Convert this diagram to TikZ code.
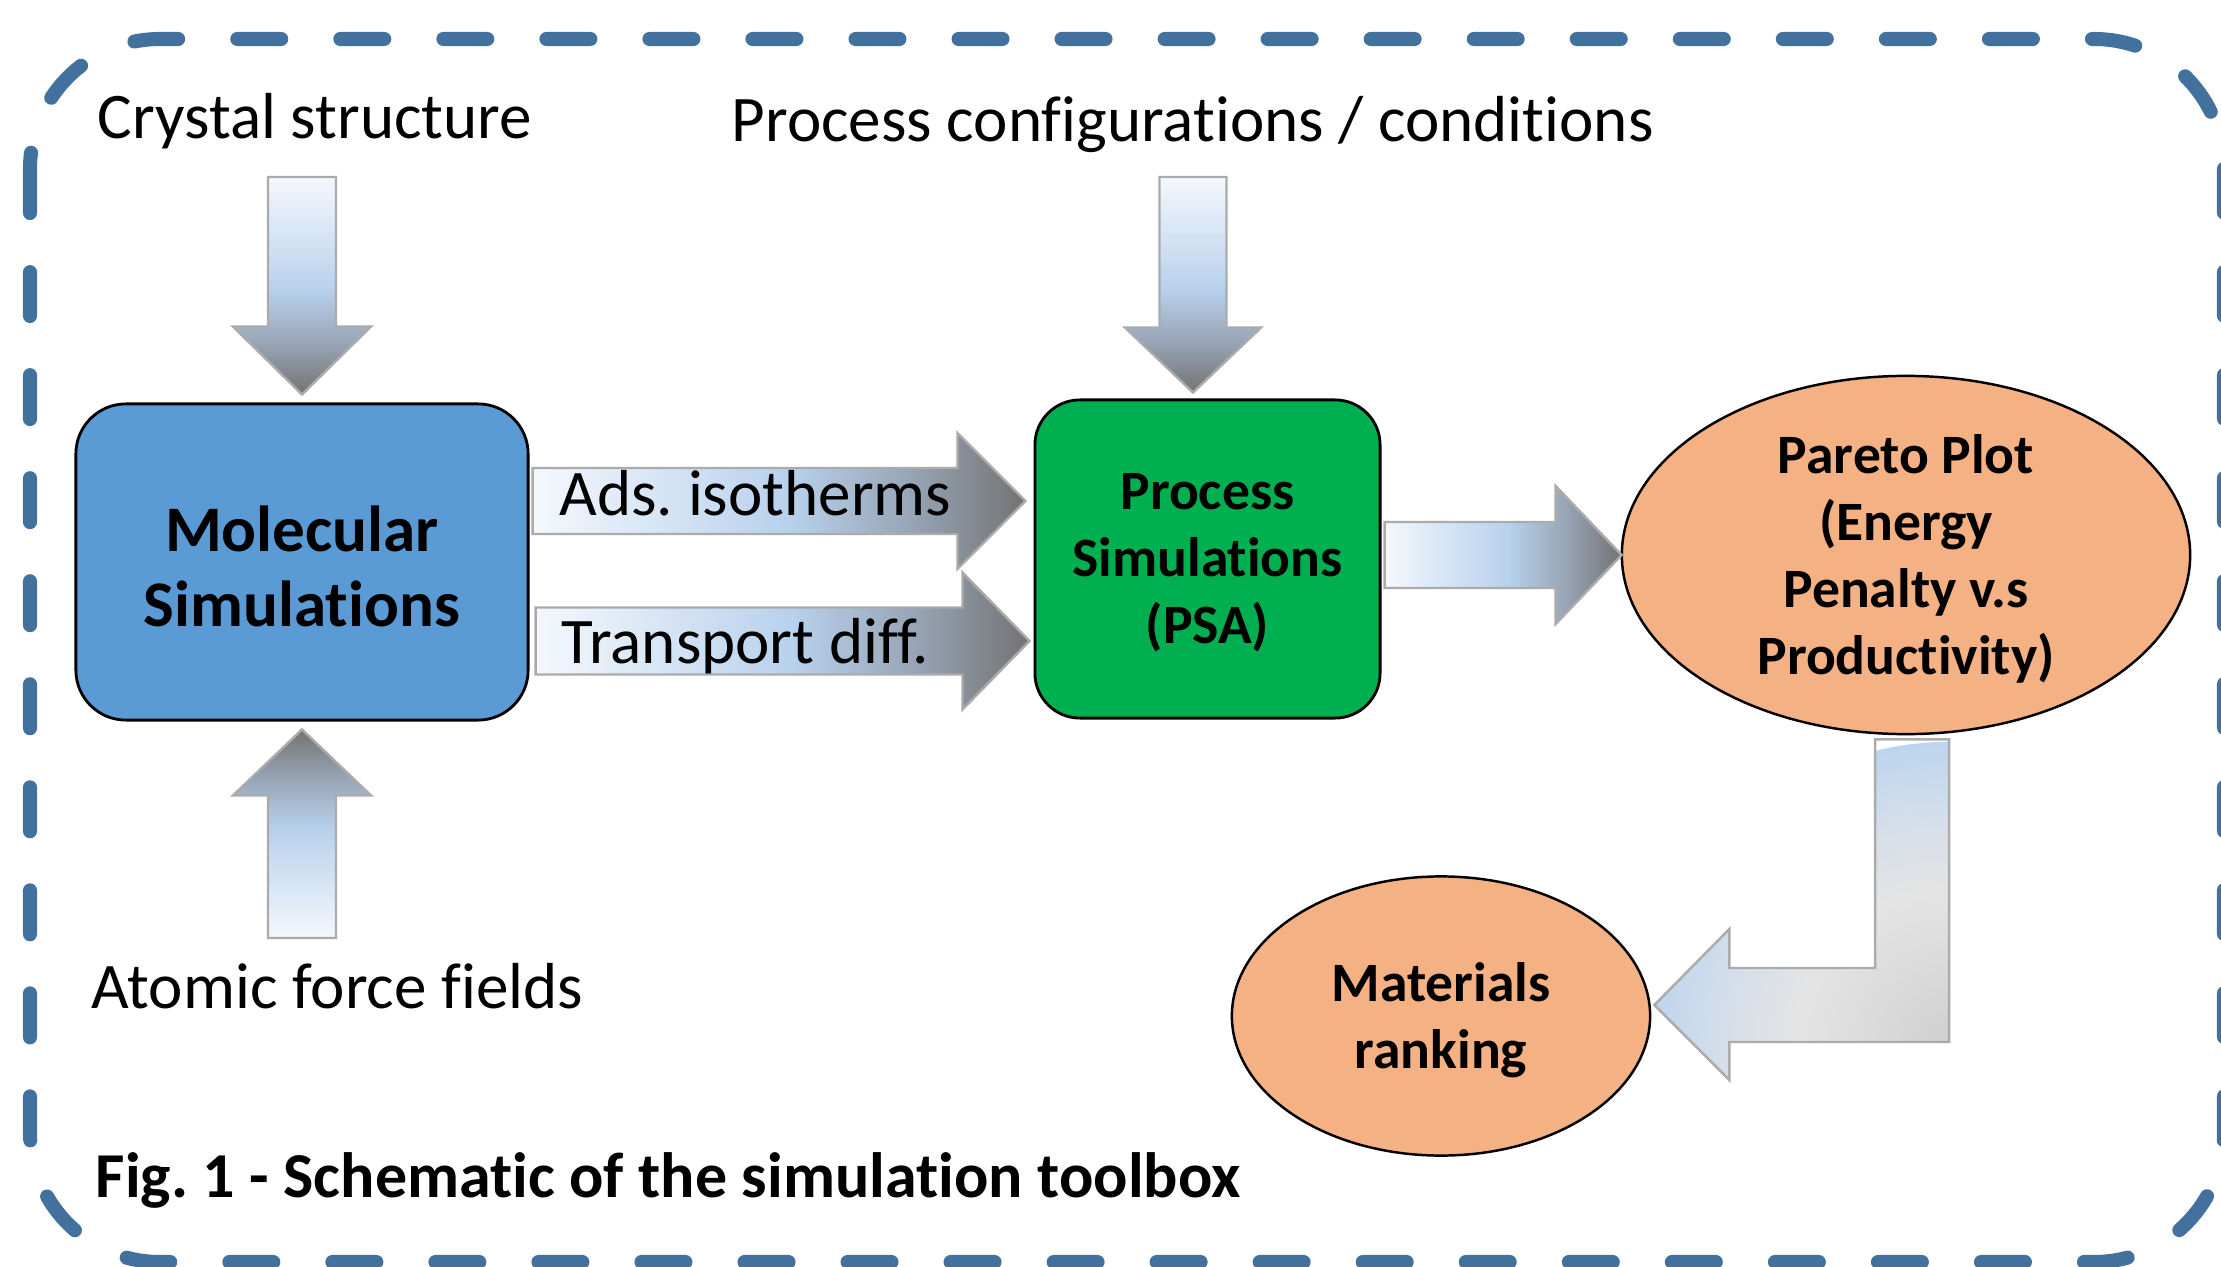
\documentclass[tikz,border=0pt]{standalone}
\usepackage{fontspec}
\setmainfont{Carlito}[Ligatures={TeX,NoCommon}]
\usetikzlibrary{calc,shapes.geometric}
\frenchspacing

\definecolor{frameblue}{RGB}{66,113,157}
\definecolor{molblue}{HTML}{5B9BD5}
\definecolor{psagreen}{HTML}{00B050}
\definecolor{peach}{HTML}{F4B183}
\definecolor{gLight}{HTML}{F4F8FD}
\definecolor{gBlue}{HTML}{B8D1EC}
\definecolor{gMid}{HTML}{98A6B7}
\definecolor{gDark}{HTML}{737373}
\definecolor{arrowedge}{HTML}{ABABAB}
\definecolor{bC0}{HTML}{D0D0D0}
\definecolor{bC1}{HTML}{E4E4E4}
\definecolor{bC2}{HTML}{D4DEEA}
\definecolor{bC3}{HTML}{BCD5EE}

% light-to-dark fill of the straight block arrows (light on top, dark at the bottom)
\pgfdeclareverticalshading{flowgrad}{100bp}{color(0bp)=(gDark); color(25bp)=(gDark); color(37bp)=(gMid); color(49bp)=(gBlue); color(75bp)=(gLight); color(100bp)=(gLight)}
% fill of the bent arrow, grey around its outer corner, blue towards both ends
\pgfdeclareradialshading{bendgrad}{\pgfpoint{0bp}{0bp}}{color(0bp)=(bC0); color(12.5bp)=(bC1); color(19bp)=(bC2); color(25bp)=(bC3); color(50bp)=(bC3)}

\tikzset{
  frame/.style={draw=frameblue, line width=4pt, line cap=round,
    dash pattern=on 12.5pt off 16.8pt, rounded corners=1.3cm},
  lbl/.style={inner sep=0pt, font=\fontsize{18.5}{22}\selectfont},
  caption/.style={inner sep=0pt, font=\bfseries\fontsize{18.2}{22}\selectfont},
  molbox/.style={rectangle, rounded corners=0.5cm, draw=black, line width=0.8pt,
    fill=molblue, minimum width=4.52cm, minimum height=3.16cm, inner sep=0pt},
  psabox/.style={rectangle, rounded corners=0.45cm, draw=black, line width=0.8pt,
    fill=psagreen, minimum width=3.45cm, minimum height=3.18cm, inner sep=0pt},
  result/.style={ellipse, draw=black, line width=0.7pt, fill=peach, inner sep=0pt},
  bigtext/.style={inner sep=0pt, align=center, font=\bfseries\fontsize{18.5}{21.3}\selectfont},
  boxtext/.style={inner sep=0pt, align=center, font=\bfseries\fontsize{15.8}{19.1}\selectfont},
  flowarrow/.style={shading=flowgrad, draw=arrowedge, line width=0.7pt, line join=miter},
  bendarrow/.style={draw=arrowedge, line width=0.7pt, line join=miter},
}

\begin{document}
\begin{tikzpicture}[x=0.01cm, y=-0.01cm]
\useasboundingbox (0,0) rectangle (2221,1267);

% dashed outer frame
\draw[frame] (30,39) rectangle (2224,1262);

% main blocks
\node[molbox] (mol) at (302,562) {};
\node[psabox] (psa) at (1207.5,559) {};
\node[result, minimum width=5.68cm, minimum height=3.58cm] (pareto) at (1906,555) {};
\node[result, minimum width=4.18cm, minimum height=2.79cm] (mat) at (1441,1016) {};

% block texts
\node[bigtext] (molT) at ($(mol.center)+(0,4)$) {Molecular\\Simulations};
\node[boxtext] (psaT) at ($(psa.center)+(0,4)$) {Process\\Simulations\\(PSA)};
\node[boxtext] (paretoT) at ($(pareto.center)+(0,4)$) {Pareto Plot\\(Energy\\Penalty v.s\\Productivity)};
\node[boxtext] (matT) at ($(mat.center)+(0,4)$) {Materials\\ranking};

% input labels and caption
\node[lbl, anchor=base west] (crys) at (97,139) {Crystal structure};
\node[lbl, anchor=base west] (conf) at (731,142) {Process configurations / conditions};
\node[lbl, anchor=base west] (ff) at (91,1008) {Atomic force fields};
\node[caption, anchor=base west] (cap) at (95,1197) {Fig. 1 - Schematic of the simulation toolbox};

% crystal structure -> molecular simulations
\coordinate (csTop) at (302,177);
\coordinate (csTip) at ($(mol.north)+(0,-8)$);
\shadedraw[flowarrow] ($(csTop)+(-34,0)$) -- ($(csTop)+(34,0)$) -- ($(csTip)+(34,-68)$)
  -- ($(csTip)+(69,-68)$) -- (csTip) -- ($(csTip)+(-69,-68)$) -- ($(csTip)+(-34,-68)$) -- cycle;

% atomic force fields -> molecular simulations
\coordinate (afBot) at (302,938);
\coordinate (afTip) at ($(mol.south)+(0,8)$);
\shadedraw[flowarrow, shading angle=180] ($(afBot)+(-34,0)$) -- ($(afBot)+(34,0)$) -- ($(afTip)+(34,66)$)
  -- ($(afTip)+(69,66)$) -- (afTip) -- ($(afTip)+(-69,66)$) -- ($(afTip)+(-34,66)$) -- cycle;

% process configurations -> process simulations
\coordinate (pcTop) at (1193,177);
\coordinate (pcTip) at ($(pcTop |- psa.north)+(0,-6)$);
\shadedraw[flowarrow] ($(pcTop)+(-33.5,0)$) -- ($(pcTop)+(33.5,0)$) -- ($(pcTip)+(33.5,-65)$)
  -- ($(pcTip)+(68,-65)$) -- (pcTip) -- ($(pcTip)+(-68,-65)$) -- ($(pcTip)+(-33.5,-65)$) -- cycle;

% adsorption isotherms
\coordinate (adsS) at ($(mol.east)+(3,-61)$);
\coordinate (adsT) at ($(adsS -| psa.west)+(-8,0)$);
\shadedraw[flowarrow, shading angle=90] ($(adsS)+(0,-33)$) -- ($(adsT)+(-68,-33)$) -- ($(adsT)+(-68,-68)$)
  -- (adsT) -- ($(adsT)+(-68,68)$) -- ($(adsT)+(-68,33)$) -- ($(adsS)+(0,33)$) -- cycle;

% transport diffusivities
\coordinate (trS) at ($(mol.east)+(6,79)$);
\coordinate (trT) at ($(trS -| psa.west)+(-4,0)$);
\shadedraw[flowarrow, shading angle=90] ($(trS)+(0,-33.5)$) -- ($(trT)+(-67,-33.5)$) -- ($(trT)+(-67,-68.5)$)
  -- (trT) -- ($(trT)+(-67,68.5)$) -- ($(trT)+(-67,33.5)$) -- ($(trS)+(0,33.5)$) -- cycle;

% process simulations -> Pareto plot
\coordinate (ppS) at ($(psa.east)+(3,-4)$);
\coordinate (ppT) at ($(ppS -| pareto.west)+(1,0)$);
\shadedraw[flowarrow, shading angle=90] ($(ppS)+(0,-33)$) -- ($(ppT)+(-66,-33)$) -- ($(ppT)+(-66,-69)$)
  -- (ppT) -- ($(ppT)+(-66,69)$) -- ($(ppT)+(-66,33)$) -- ($(ppS)+(0,33)$) -- cycle;

% Pareto plot -> materials ranking (bent arrow)
\coordinate (bTop) at ($(pareto.south)+(6,4)$);
\coordinate (bTip) at ($(mat.east)+(3,-11)$);
\coordinate (bCorner) at ($(bTop |- bTip)+(37,37)$);
\begin{scope}
  \clip ($(bTop)+(-37,0)$) -- ($(bTop)+(37,0)$) -- (bCorner) -- ($(bTip)+(75,37)$)
    -- ($(bTip)+(75,75)$) -- (bTip) -- ($(bTip)+(75,-76)$) -- ($(bTip)+(75,-37)$)
    -- ($(bTop |- bTip)+(-37,-37)$) -- cycle;
  \shade[shading=bendgrad] (bCorner) circle (3cm);
\end{scope}
\draw[bendarrow] ($(bTop)+(-37,0)$) -- ($(bTop)+(37,0)$) -- (bCorner) -- ($(bTip)+(75,37)$)
  -- ($(bTip)+(75,75)$) -- (bTip) -- ($(bTip)+(75,-76)$) -- ($(bTip)+(75,-37)$)
  -- ($(bTop |- bTip)+(-37,-37)$) -- cycle;

% labels carried by the two data arrows
\node[lbl, anchor=base west] (adsL) at (559,515) {Ads. isotherms};
\node[lbl, anchor=base west] (trL) at (561,663) {Transport diff.};
\end{tikzpicture}
\end{document}
